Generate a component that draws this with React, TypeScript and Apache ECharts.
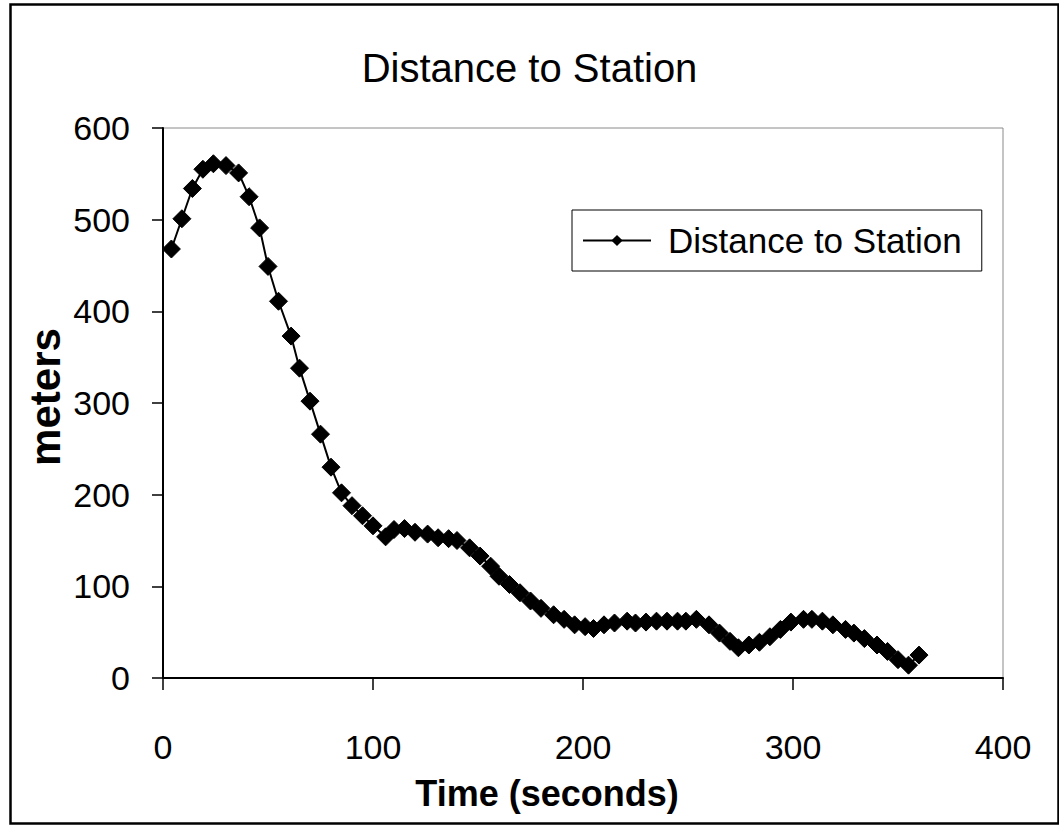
import React, { useEffect, useRef } from "react";
import * as echarts from "echarts";

// Elapsed time of each sample, in seconds
const timeSeconds = [
  4, 9, 14, 19, 24, 30, 36, 41, 46, 50, 55, 61, 65, 70, 75, 80, 85, 90, 95, 100,
  106, 110, 115, 120, 126, 131, 136, 140, 146, 151, 156, 160, 165, 170, 175, 180,
  186, 191, 196, 201, 205, 210, 215, 221, 225, 230, 235, 240, 245, 249, 254, 260,
  265, 270, 274, 279, 284, 289, 294, 299, 305, 309, 314, 319, 325, 329, 334, 340,
  345, 350, 355, 360,
];

// Distance to the station at each sample, in meters
const distanceMeters = [
  468, 501, 534, 555, 561, 559, 551, 525, 491, 449, 411, 373, 338, 302, 266, 230,
  202, 188, 177, 166, 154, 162, 163, 159, 157, 153, 152, 150, 142, 133, 122, 111,
  102, 93, 84, 76, 69, 64, 58, 56, 54, 58, 60, 62, 60, 61, 62, 62, 62, 62, 64, 58,
  49, 40, 33, 36, 39, 45, 53, 61, 64, 64, 62, 58, 53, 49, 43, 36, 29, 20, 14, 25,
];

const xTicks = [0, 100, 200, 300, 400];
const yTicks = [0, 100, 200, 300, 400, 500, 600];

const seriesName = "Distance to Station";
const chartTitle = "Distance to Station";
const xTitle = "Time (seconds)";
const yTitle = "meters";

const FONT = "'Liberation Sans', Arial, Helvetica, sans-serif";

export default function App() {
  const ref = useRef<HTMLDivElement>(null);

  useEffect(() => {
    if (!ref.current) return;
    const chart = echarts.init(ref.current, null, { renderer: "svg" });
    const points = timeSeconds.map((t, i) => [t, distanceMeters[i]]);

    chart.setOption({
      animation: false,
      backgroundColor: "#ffffff",
      textStyle: { fontFamily: FONT, color: "#000" },
      title: {
        text: chartTitle,
        left: "center",
        top: 43,
        textStyle: { fontFamily: FONT, fontSize: 40, fontWeight: "normal", color: "#000" },
      },
      legend: {
        data: [seriesName],
        left: 572,
        top: 210,
        orient: "horizontal",
        backgroundColor: "#fff",
        borderColor: "#000",
        borderWidth: 1,
        padding: [13, 20, 13, 10],
        itemWidth: 68,
        itemHeight: 14,
        itemGap: 6,
        textStyle: {
          fontFamily: FONT,
          fontSize: 35,
          color: "#000",
          padding: [0, 0, 0, 12],
        },
      },
      grid: {
        left: 163,
        top: 128,
        right: 56,
        bottom: 149,
        show: true,
        borderColor: "#8a8a8a",
        borderWidth: 1,
        backgroundColor: "transparent",
      },
      xAxis: {
        type: "value",
        min: xTicks[0],
        max: xTicks[xTicks.length - 1],
        interval: 100,
        axisLine: { show: true, onZero: false, lineStyle: { color: "#000", width: 2 } },
        axisTick: { show: true, inside: false, length: 12, lineStyle: { color: "#000", width: 1.5 } },
        axisLabel: { margin: 52, fontFamily: FONT, fontSize: 34, color: "#000" },
        splitLine: { show: false },
      },
      yAxis: {
        type: "value",
        min: yTicks[0],
        max: yTicks[yTicks.length - 1],
        interval: 100,
        axisLine: { show: true, onZero: false, lineStyle: { color: "#000", width: 2 } },
        axisTick: { show: true, inside: false, length: 11, lineStyle: { color: "#000", width: 1.5 } },
        axisLabel: { margin: 33, fontFamily: FONT, fontSize: 34, color: "#000" },
        splitLine: { show: false },
      },
      graphic: [
        {
          type: "rect",
          left: 8,
          top: 2,
          shape: { x: 0, y: 0, width: 1048, height: 819 },
          style: { fill: "none", stroke: "#000", lineWidth: 2.5 },
          silent: true,
          z: 0,
        },
        {
          type: "text",
          x: 547,
          y: 793,
          style: {
            text: xTitle,
            fontFamily: FONT,
            fontSize: 36,
            fontWeight: "bold",
            fill: "#000",
            align: "center",
            verticalAlign: "middle",
          },
        },
        {
          type: "text",
          x: 45,
          y: 397,
          rotation: Math.PI / 2,
          style: {
            text: yTitle,
            fontFamily: FONT,
            fontSize: 42,
            fontWeight: "bold",
            fill: "#000",
            align: "center",
            verticalAlign: "middle",
          },
        },
      ],
      series: [
        {
          name: seriesName,
          type: "line",
          data: points,
          symbol: "diamond",
          symbolSize: 18,
          showAllSymbol: true,
          lineStyle: { color: "#000", width: 2 },
          itemStyle: { color: "#000", borderColor: "#000" },
          emphasis: { disabled: true },
          z: 3,
        },
      ],
    });

    return () => chart.dispose();
  }, []);

  return (
    <div
      ref={ref}
      style={{ position: "fixed", left: 0, top: 0, width: 1059, height: 827, background: "#fff" }}
    />
  );
}
